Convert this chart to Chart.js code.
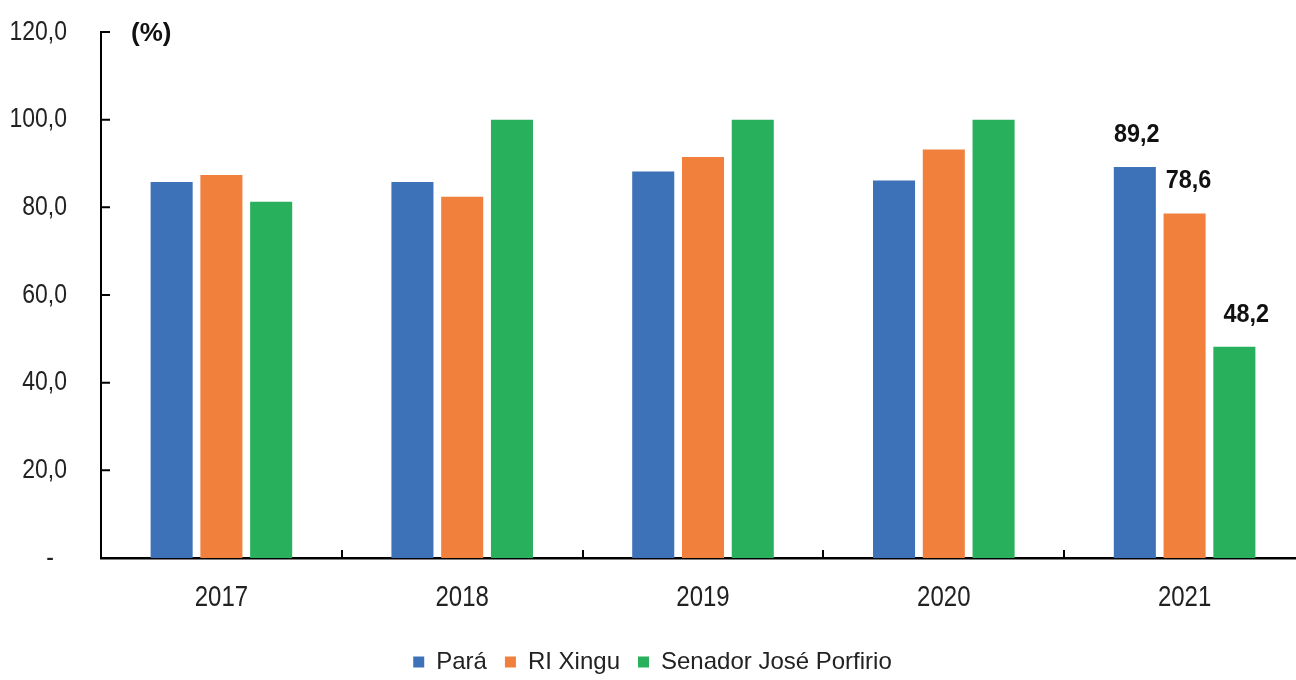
<!DOCTYPE html>
<html lang="pt">
<head>
<meta charset="UTF-8">
<title>Pará, RI Xingu e Senador José Porfírio</title>
<style>
  html, body { margin: 0; padding: 0; background: #fff; overflow: hidden; }
  #wrap { position: relative; width: 1305px; height: 684px; }
</style>
</head>
<body>
<div id="wrap"><canvas id="chart" width="1305" height="684"></canvas></div>
<script src="https://cdn.jsdelivr.net/npm/chart.js@4.4.1/dist/chart.umd.min.js"></script>
<script>
const years = ["2017", "2018", "2019", "2020", "2021"];
const para = [85.8, 85.8, 88.2, 86.1, 89.2];
const riXingu = [87.4, 82.4, 91.5, 93.2, 78.6];
const senador = [81.3, 100.0, 100.0, 100.0, 48.2];
const seriesNames = ["Pará", "RI Xingu", "Senador José Porfirio"];
const labelledYear = "2021";

const FONT = '"Liberation Sans", Arial, sans-serif';
const fmt = v => v.toFixed(1).replace(".", ",");

// narrow text: the original uses Arial Narrow, which is not installed here
function narrowText(ctx, text, x, y, squeeze) {
    ctx.save();
    ctx.translate(x, y);
    ctx.scale(squeeze, 1);
    ctx.fillText(text, 0, 0);
    ctx.restore();
}

// axis labels, inward ticks, the "(%)" unit and the value labels on the last year
const axisMarks = {
    id: "axisMarks",
    afterDraw(chart) {
        const { ctx, chartArea, scales: { x, y } } = chart;
        ctx.save();
        ctx.strokeStyle = "#000";
        ctx.lineWidth = 2;
        ctx.beginPath();
        y.ticks.forEach(t => {
            const py = y.getPixelForValue(t.value);
            ctx.moveTo(chartArea.left, py);
            ctx.lineTo(chartArea.left + 9, py);
        });
        const half = (x.getPixelForValue(1) - x.getPixelForValue(0)) / 2;
        for (let i = 0; i <= years.length; i++) {
            const px = Math.round(x.getPixelForValue(i) - half);
            ctx.moveTo(px, chartArea.bottom);
            ctx.lineTo(px, chartArea.bottom - 8);
        }
        ctx.stroke();

        // y tick labels
        ctx.fillStyle = "#222";
        ctx.font = "28px " + FONT;
        ctx.textAlign = "right";
        ctx.textBaseline = "middle";
        y.ticks.forEach(t => {
            const py = y.getPixelForValue(t.value);
            if (t.value === 0) narrowText(ctx, "-", chartArea.left - 47, py, 0.82);
            else narrowText(ctx, fmt(t.value), chartArea.left - 34, py, 0.82);
        });

        // x tick labels
        ctx.font = "30px " + FONT;
        ctx.textAlign = "center";
        years.forEach((yr, i) => {
            narrowText(ctx, yr, x.getPixelForValue(i), chartArea.bottom + 40, 0.8);
        });

        ctx.fillStyle = "#111";
        ctx.font = "bold 26px " + FONT;
        ctx.textAlign = "left";
        ctx.fillText("(%)", chartArea.left + 30, y.getPixelForValue(120) + 2);

        const idx = years.indexOf(labelledYear);
        const shift = [2, 4, 12];
        ctx.font = "bold 26px " + FONT;
        ctx.textAlign = "center";
        ctx.textBaseline = "alphabetic";
        chart.data.datasets.forEach((ds, di) => {
            const bar = chart.getDatasetMeta(di).data[idx];
            narrowText(ctx, fmt(ds.data[idx]), bar.x + shift[di], bar.y - 25, 0.9);
        });
        ctx.restore();
    }
};

new Chart(document.getElementById("chart"), {
    type: "bar",
    data: {
        labels: years,
        datasets: [
            { label: seriesNames[0], data: para, backgroundColor: "#3d71b8" },
            { label: seriesNames[1], data: riXingu, backgroundColor: "#f0803b" },
            { label: seriesNames[2], data: senador, backgroundColor: "#29b05d" }
        ]
    },
    options: {
        responsive: false,
        animation: false,
        categoryPercentage: 0.62,
        barPercentage: 0.845,
        layout: { padding: { top: 32, right: 0, bottom: 0, left: 0 } },
        plugins: {
            tooltip: { enabled: false },
            legend: {
                position: "bottom",
                labels: {
                    boxWidth: 11,
                    boxHeight: 11,
                    padding: 18,
                    color: "#222",
                    font: { family: FONT, size: 24 }
                }
            }
        },
        scales: {
            x: {
                offset: true,
                grid: { display: false },
                border: { display: true, color: "#000", width: 2.5 },
                ticks: { display: false },
                afterFit: s => { s.height = 74; }
            },
            y: {
                min: 0,
                max: 120,
                grid: { display: false },
                border: { display: true, color: "#000", width: 2 },
                ticks: { display: false, stepSize: 20 },
                afterFit: s => { s.width = 101; }
            }
        }
    },
    plugins: [axisMarks]
});
</script>
</body>
</html>
